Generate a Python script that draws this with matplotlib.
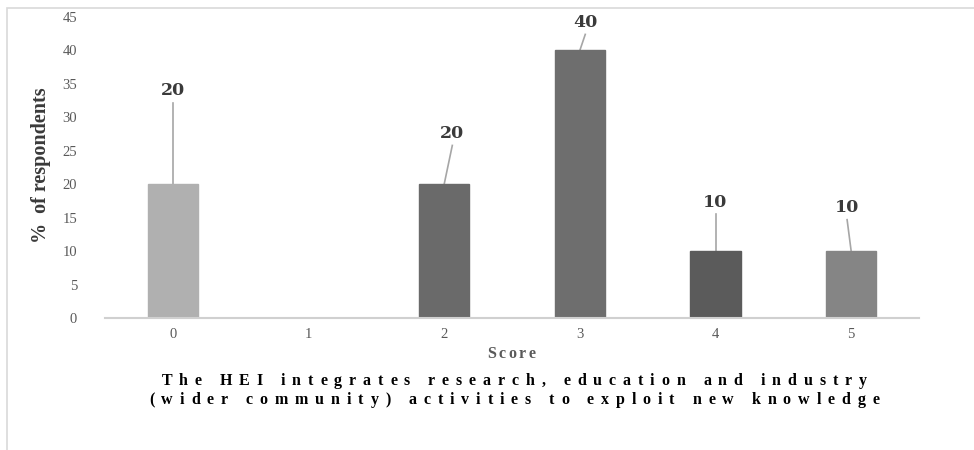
import matplotlib
matplotlib.use('agg')
import matplotlib.pyplot as plt
from matplotlib.patches import Rectangle

# Score distribution (% of respondents)
scores = ["0", "1", "2", "3", "4", "5"]
percent = [20, 0, 20, 40, 10, 10]
bar_colors = ["#b0b0b0", "#b0b0b0", "#6a6a6a", "#6e6e6e", "#5b5b5b", "#858585"]
# where the value labels sit (data units), leader lines run down to the bar
label_x = [0.0, 1.0, 2.06, 3.04, 4.0, 4.97]
label_y = [34.0, 0.0, 27.6, 44.2, 17.3, 16.5]

title_lines = ["The HEI integrates research, education and industry",
               "(wider community) activities to exploit new knowledge"]

plt.rcParams['font.family'] = ['Liberation Serif', 'DejaVu Serif']

W, H = 974, 450
fig = plt.figure(figsize=(W / 100, H / 100), dpi=100)
ax = fig.add_axes([105 / W, 1 - 318 / H, 814 / W, 301 / H])
renderer = fig.canvas.get_renderer()


def spaced_text(xc, yc, s, size, tracking, **kw):
    # centred text with extra letter spacing, positions in pixels from top-left
    probe = fig.text(0, 0, "x", fontsize=size, fontweight="bold")
    prop = probe.get_fontproperties()
    probe.remove()
    widths = [renderer.get_text_width_height_descent(ch, prop, ismath=False)[0]
              for ch in s]
    total = sum(widths) + tracking * (len(s) - 1)
    xpos = xc - total / 2
    for ch, w in zip(s, widths):
        fig.text(xpos / W, 1 - yc / H, ch, fontsize=size, fontweight="bold",
                 ha="left", va="center", **kw)
        xpos += w + tracking


x = list(range(len(scores)))
ax.bar(x, percent, width=0.37, color=bar_colors, edgecolor=bar_colors,
       linewidth=1.0, zorder=2)

ax.set_xlim(-0.5, 5.5)
ax.set_ylim(0, 45)
ax.set_yticks(range(0, 46, 5))
ax.set_xticks(x)
ax.set_xticklabels(scores)
ax.tick_params(length=0, labelsize=10.5, labelcolor="#595959", pad=7)
ax.tick_params(axis='y', pad=20)
for side in ["top", "right", "left"]:
    ax.spines[side].set_visible(False)
ax.spines["bottom"].set_color("#d0d0d0")
ax.spines["bottom"].set_linewidth(1.5)

# value labels with leader lines
for xi, v, lx, ly in zip(x, percent, label_x, label_y):
    if v == 0:
        continue
    ax.plot([lx, xi], [ly - 1.8, v], color="#a6a6a6", linewidth=1.2, zorder=1)
    ax.text(lx, ly, f"{v}", ha="center", va="center", fontsize=12.5,
            fontweight="bold", color="#3a3a3a", family="DejaVu Serif")

spaced_text(511, 354, "Score", 11.5, 2.6, color="#595959")
fig.text(41 / W, 1 - 165 / H, "%  of respondents", rotation=90,
         ha="center", va="center", fontsize=14.5, fontweight="bold",
         color="#3a3a3a")

for line, yc in zip(title_lines, [381, 400]):
    spaced_text(514, yc, line, 11.5, 6.9, color="black")

# light chart frame
fig.patches.append(Rectangle((7 / W, -0.1), 1.2, 1 - 8 / H + 0.1,
                             transform=fig.transFigure, fill=False,
                             edgecolor="#d9d9d9", linewidth=1.2))

fig.savefig("out.png", dpi=100)
